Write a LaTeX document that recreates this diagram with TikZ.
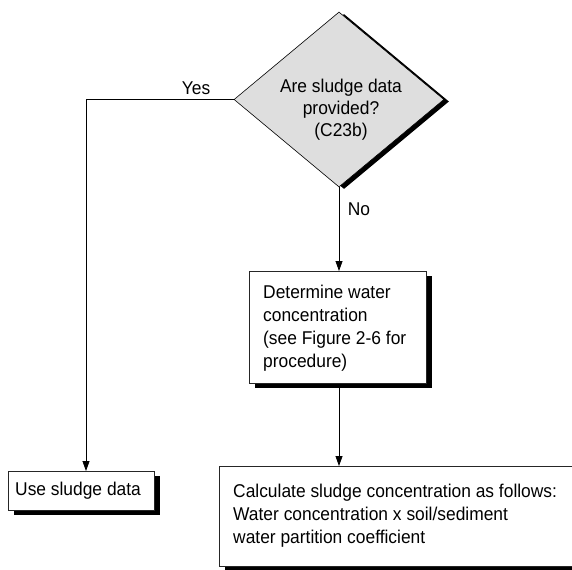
\documentclass[tikz,border=0pt]{standalone}
\usepackage{fontspec}
\setmainfont{Liberation Sans}[FakeStretch=0.94]
\usetikzlibrary{shapes.geometric,arrows.meta}
\begin{document}
\begin{tikzpicture}[x=1bp,y=-1bp,
  every node/.style={font=\fontsize{18.5bp}{23bp}\selectfont},
  boxshadow/.style={preaction={fill=black,transform canvas={xshift=#1,yshift=-4bp}}},
  flowbox/.style={draw=black!85,line width=1bp,fill=white,inner sep=0pt,
    anchor=north west,boxshadow=5bp},
  decision/.style={diamond,draw=black,line width=0.6bp,fill=black!13,
    minimum width=210bp,minimum height=175bp,inner sep=0pt,
    preaction={fill=black,transform canvas={xshift=5bp,yshift=-2bp}}},
  flow/.style={line width=0.8bp,-{Triangle[length=10bp,width=7bp]}},
  txt/.style={inner sep=0pt,align=left,anchor=base west},
  lbl/.style={inner sep=0pt,anchor=base}]
\useasboundingbox (0,0) rectangle (572,570);

% decision (text placed by the baseline of its last line)
\node[decision] (q) at (339,99.5) {};
\node[inner sep=0pt,align=center,anchor=base,
  font=\fontsize{18.5bp}{22bp}\selectfont] (qt) at (341,137)
  {Are sludge data\\provided?\\(C23b)};

% process boxes
\node[flowbox,minimum width=177bp,minimum height=112bp] (wc) at (249,271) {};
\node[txt] (wct) at (263,367)
  {Determine water\\concentration\\(see Figure 2-6 for\\procedure)};

\node[flowbox,minimum width=146bp,minimum height=39bp] (use) at (8,471) {};
\node[txt] (uset) at (15,495) {Use sludge data};

\node[flowbox,minimum width=354bp,minimum height=100bp] (calc) at (219,466) {};
\node[txt] (calct) at (233,543)
  {Calculate sludge concentration as follows:\\Water concentration x soil/sediment\\water partition coefficient};

% connectors
\coordinate (corner) at (86,99.5);
\draw[flow] (q.west) -- (corner) -- (use.north -| corner);
\draw[flow] (q.south) -- (wc.north -| q.south);
\draw[flow] (wc.south -| q.south) -- (calc.north -| q.south);

% branch labels
\node[lbl] (yes) at (196,95) {Yes};
\node[lbl] (no) at (359,215) {No};
\end{tikzpicture}
\end{document}
